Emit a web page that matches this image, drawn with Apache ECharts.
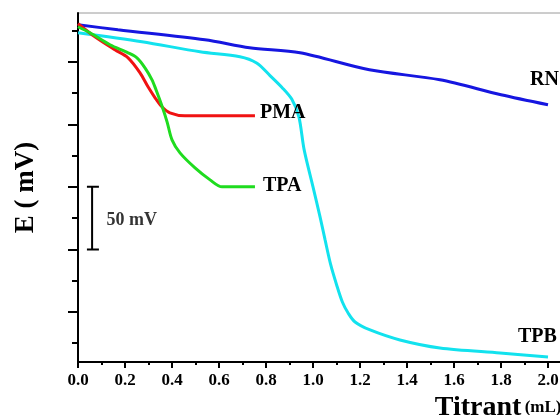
<!DOCTYPE html>
<html>
<head>
<meta charset="utf-8">
<script src="https://cdn.jsdelivr.net/npm/echarts@6/dist/echarts.min.js"></script>
<style>
  html, body { margin: 0; padding: 0; background: #fff; }
  #chart { width: 560px; height: 415px; }
</style>
</head>
<body>
<div id="chart"></div>
<script>
// titrant volume (mL) vs potential (relative mV)
const rnData = [[0, 279.6], [0.17, 275.6], [0.54, 267.6], [0.73, 261.2], [0.945, 257.2],
  [1.24, 243.6], [1.54, 235.6], [1.80, 223.6], [2.0, 215.6]];
const tpbData = [[0, 273.2], [0.272, 266], [0.519, 258], [0.689, 254], [0.76, 249],
  [0.817, 239], [0.868, 229.5], [0.91, 220], [0.94, 206], [0.962, 180],
  [1.0, 150], [1.03, 126], [1.051, 108], [1.075, 88], [1.1, 72], [1.125, 58],
  [1.15, 49], [1.179, 42], [1.243, 35.6], [1.37, 27.6], [1.54, 21.2], [1.796, 17.2], [2.0, 14]];
const pmaData = [[0, 280.4], [0.072, 270], [0.157, 259.6], [0.213, 253.2], [0.264, 241.2],
  [0.298, 230], [0.328, 221.2], [0.357, 214], [0.391, 209.2], [0.455, 206.8], [0.753, 206.8]];
const tpaData = [[0, 278], [0.051, 273.2], [0.136, 263.6], [0.213, 257.2], [0.251, 253.2],
  [0.285, 245.2], [0.315, 235.6], [0.332, 227.6], [0.357, 214.8], [0.379, 202],
  [0.4, 187.6], [0.434, 177.2], [0.498, 165.2], [0.562, 155.6], [0.613, 150], [0.753, 150]];

// scale bar: 50 mV between 100 and 150
const scaleBar = [[0.038, 150], [0.089, 150], [0.06, 150], [0.06, 100], [0.038, 100], [0.089, 100]];
const scaleText = [[0.1, 123]];

const majorTicks = [50, 100, 150, 200, 250];
const minorTicks = [25, 75, 125, 175, 225, 275];

const serif = 'Liberation Serif';

function curve(name, data, color, endLabel) {
  return {
    name: name,
    type: 'line',
    data: data,
    smooth: 0.3,
    symbol: 'none',
    lineStyle: { color: color, width: 3 },
    endLabel: Object.assign({
      show: true,
      formatter: name,
      fontFamily: serif,
      fontWeight: 'bold',
      fontSize: 20,
      color: '#000'
    }, endLabel)
  };
}

const chart = echarts.init(document.getElementById('chart'));
chart.setOption({
  backgroundColor: '#fff',
  animation: false,
  grid: {
    left: 78, top: 13, bottom: 53, width: 493.5,
    containLabel: false, outerBoundsMode: 'none',
    show: true, borderColor: '#9a9a9a', borderWidth: 1
  },
  xAxis: {
    type: 'value', min: 0, max: 2.1, interval: 0.2,
    name: '{a|Titrant} {b|(mL)}',
    nameLocation: 'middle',
    nameGap: 25,
    nameTextStyle: {
      align: 'left', padding: [0, 0, 0, 110],
      rich: {
        a: { fontFamily: serif, fontWeight: 'bold', fontSize: 28, color: '#000' },
        b: { fontFamily: serif, fontWeight: 'bold', fontSize: 17, color: '#000' }
      }
    },
    axisLine: { lineStyle: { color: '#000', width: 2 } },
    axisTick: { length: 6, lineStyle: { color: '#000', width: 2 } },
    minorTick: { show: true, splitNumber: 2, length: 3, lineStyle: { color: '#000', width: 2 } },
    splitLine: { show: false },
    axisLabel: {
      margin: 10, showMaxLabel: false,
      fontFamily: serif, fontWeight: 'bold', fontSize: 17, color: '#000',
      formatter: v => v.toFixed(1)
    }
  },
  yAxis: [{
    type: 'value', min: 10, max: 289,
    name: 'E ( mV)',
    nameLocation: 'middle',
    nameGap: 38,
    nameTextStyle: { fontFamily: serif, fontWeight: 'bold', fontSize: 27, color: '#000' },
    axisLine: { lineStyle: { color: '#000', width: 2 } },
    axisTick: { customValues: majorTicks, length: 10, lineStyle: { color: '#000', width: 2 } },
    axisLabel: { show: false },
    splitLine: { show: false }
  }, {
    type: 'value', min: 10, max: 289, position: 'left',
    axisLine: { show: false },
    axisTick: { show: true, customValues: minorTicks, length: 6, lineStyle: { color: '#000', width: 2 } },
    axisLabel: { show: false },
    splitLine: { show: false }
  }],
  series: [
    curve('RN', rnData, '#1616e0', { offset: [-26, -25] }),
    curve('TPB', tpbData, '#12e2ee', { offset: [-38, -20] }),
    curve('PMA', pmaData, '#f01212', { offset: [-3, -3] }),
    curve('TPA', tpaData, '#1fdc1f', { offset: [0, -1] }),
    {
      type: 'line', data: scaleBar, symbol: 'none',
      lineStyle: { color: '#000', width: 2 }
    },
    {
      type: 'scatter', data: scaleText, symbolSize: 0,
      label: {
        show: true, position: 'right', distance: 5, formatter: '50 mV',
        fontFamily: serif, fontWeight: 'bold', fontSize: 18, color: '#000'
      }
    }
  ]
});
</script>
</body>
</html>
